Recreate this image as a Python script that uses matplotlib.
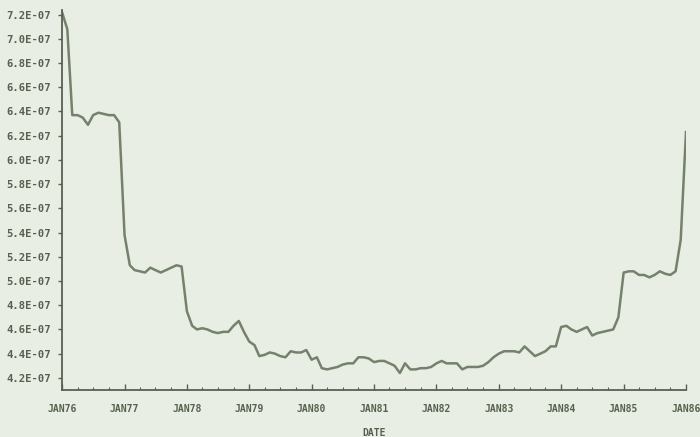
import numpy as np
import pandas as pd
import matplotlib
matplotlib.use("Agg")
import matplotlib.pyplot as plt
import matplotlib.dates as mdates
from matplotlib.ticker import FixedLocator, FuncFormatter

# Monthly series, Jan 1976 .. Jan 1986 (values in units of 1E-07)
values = [
    7.22, 7.08, 6.37, 6.37, 6.35, 6.29, 6.37, 6.39, 6.38, 6.37, 6.37, 6.31,
    5.38, 5.13, 5.09, 5.08, 5.07, 5.11, 5.09, 5.07, 5.09, 5.11, 5.13, 5.12,
    4.75, 4.63, 4.60, 4.61, 4.60, 4.58, 4.57, 4.58, 4.58, 4.63, 4.67, 4.58,
    4.50, 4.47, 4.38, 4.39, 4.41, 4.40, 4.38, 4.37, 4.42, 4.41, 4.41, 4.43,
    4.35, 4.37, 4.28, 4.27, 4.28, 4.29, 4.31, 4.32, 4.32, 4.37, 4.37, 4.36,
    4.33, 4.34, 4.34, 4.32, 4.30, 4.24, 4.32, 4.27, 4.27, 4.28, 4.28, 4.29,
    4.32, 4.34, 4.32, 4.32, 4.32, 4.27, 4.29, 4.29, 4.29, 4.30, 4.33, 4.37,
    4.40, 4.42, 4.42, 4.42, 4.41, 4.46, 4.42, 4.38, 4.40, 4.42, 4.46, 4.46,
    4.62, 4.63, 4.60, 4.58, 4.60, 4.62, 4.55, 4.57, 4.58, 4.59, 4.60, 4.70,
    5.07, 5.08, 5.08, 5.05, 5.05, 5.03, 5.05, 5.08, 5.06, 5.05, 5.08, 5.34,
    6.23,
]
dates = pd.date_range("1976-01-01", periods=len(values), freq="MS")

x_tick_labels = ["JAN76", "JAN77", "JAN78", "JAN79", "JAN80", "JAN81",
                 "JAN82", "JAN83", "JAN84", "JAN85", "JAN86"]
x_tick_dates = pd.to_datetime(["1976-01-01", "1977-01-01", "1978-01-01",
                               "1979-01-01", "1980-01-01", "1981-01-01",
                               "1982-01-01", "1983-01-01", "1984-01-01",
                               "1985-01-01", "1986-01-01"])
y_tick_values = [4.2, 4.4, 4.6, 4.8, 5.0, 5.2, 5.4, 5.6, 5.8,
                 6.0, 6.2, 6.4, 6.6, 6.8, 7.0, 7.2]

bg = "#e8eee4"
ink = "#56624f"
line_col = "#74826d"

fig = plt.figure(figsize=(7.0, 4.37), dpi=100, facecolor=bg)
ax = fig.add_axes([0.0886, 0.1076, 0.8914, 0.870])
ax.set_facecolor(bg)

y = np.array(values) * 1e-7
ax.plot(dates, y, color=line_col, linewidth=1.8, solid_joinstyle="round")

ax.set_xlim(x_tick_dates[0], x_tick_dates[-1])
ax.set_ylim(4.10e-7, 7.24e-7)

mono = dict(family="DejaVu Sans Mono", weight="bold", size=7)

ax.set_xticks(mdates.date2num(x_tick_dates))
ax.set_xticklabels(x_tick_labels, color=ink, fontdict=mono)
ax.xaxis.set_minor_locator(mdates.MonthLocator(bymonth=[4, 7, 10]))

ax.yaxis.set_major_locator(FixedLocator([v * 1e-7 for v in y_tick_values]))
ax.yaxis.set_major_formatter(FuncFormatter(lambda v, p: f"{v / 1e-7:.1f}E-07"))
plt.setp(ax.get_yticklabels(), fontweight="bold", fontsize=7.6, color=ink,
         family="DejaVu Sans Mono")

ax.tick_params(axis="y", which="major", direction="out", length=3, width=1,
               color=ink, pad=5)
ax.tick_params(axis="x", which="major", direction="in", length=4, width=1,
               color=ink, pad=10)
ax.tick_params(axis="x", which="minor", direction="in", length=2, width=0.8,
               color=ink)

for side in ("top", "right"):
    ax.spines[side].set_visible(False)
for side in ("left", "bottom"):
    ax.spines[side].set_color(ink)
    ax.spines[side].set_linewidth(1.3)

ax.set_xlabel("DATE", color=ink, fontdict=mono, labelpad=10)

fig.savefig("out.png", dpi=100, facecolor=bg)
